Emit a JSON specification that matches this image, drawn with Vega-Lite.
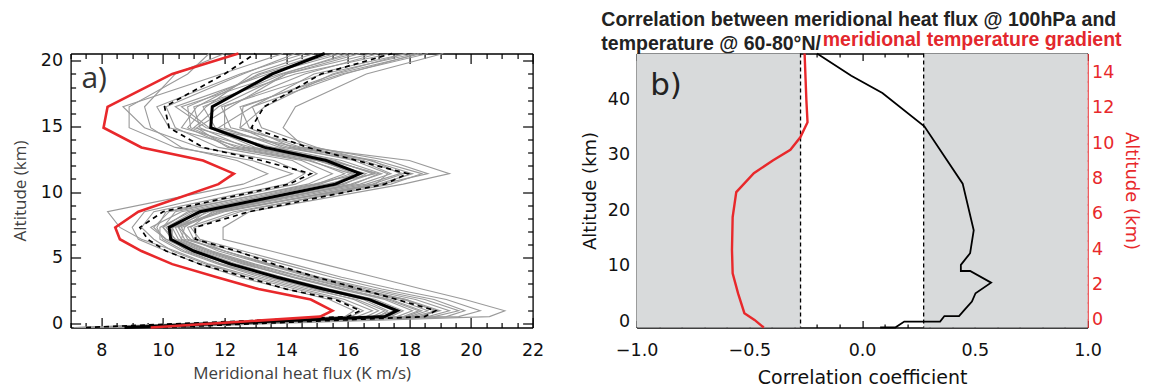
{
  "$schema": "https://vega.github.io/schema/vega-lite/v6.json",
  "background": "white",
  "padding": {"left": 10.6, "top": 9.5, "right": 5, "bottom": 5},
  "spacing": 36,
  "title": {
    "text": ["Correlation between meridional heat flux @ 100hPa and", "temperature @ 60-80°N/"],
    "anchor": "start", "frame": "bounds", "align": "left", "dx": 590, "offset": -24,
    "lineHeight": 24, "font": "Liberation Sans", "fontSize": 19.5, "fontWeight": "bold", "color": "#222222"
  },
  "datasets": {
    "a": [
      {"z": -0.33, "R": 9.6, "M": 8.75, "L": 7.5, "U": 10.0, "g1": 9.8, "g2": 8.2, "g3": 7.2, "g4": 9.0, "g5": 7.6, "g6": 8.0, "g7": 9.4, "g8": 7.4, "g9": 8.6, "g10": 7.1, "g11": 8.4, "g12": 7.8, "g13": 10.0, "g14": 8.9, "g15": 7.9, "g16": 9.2, "g17": 8.1, "g18": 9.6, "g19": 7.3, "g20": 8.5, "g21": 7.7, "g22": 9.1},
      {"z": 0.5, "R": 15.1, "M": 17.2, "L": 16.0, "U": 18.5, "g1": 20.6, "g2": 19.6, "g3": 18.8, "g4": 18.0, "g5": 17.6, "g6": 16.3, "g7": 16.6, "g8": 17.9, "g9": 18.3, "g10": 17.0, "g11": 16.1, "g12": 15.9, "g13": 18.6, "g14": 17.4, "g15": 16.9, "g16": 18.1, "g17": 17.3, "g18": 16.8, "g19": 19.2, "g20": 17.8, "g21": 17.1, "g22": 18.4},
      {"z": 0.95, "R": 15.5, "M": 17.6, "L": 16.4, "U": 18.85, "g1": 21.1, "g2": 20.3, "g3": 19.6, "g4": 18.6, "g5": 18.1, "g6": 16.8, "g7": 17.0, "g8": 18.4, "g9": 19.0, "g10": 17.3, "g11": 16.5, "g12": 16.2, "g13": 19.3, "g14": 17.8, "g15": 17.5, "g16": 18.9, "g17": 17.7, "g18": 17.2, "g19": 19.8, "g20": 18.3, "g21": 17.6, "g22": 18.8},
      {"z": 1.8, "R": 14.8, "M": 16.7, "L": 15.6, "U": 17.6, "g1": 19.8, "g2": 19.2, "g3": 18.5, "g4": 17.6, "g5": 17.2, "g6": 15.9, "g7": 16.2, "g8": 17.4, "g9": 17.9, "g10": 16.5, "g11": 15.7, "g12": 15.4, "g13": 18.2, "g14": 16.9, "g15": 16.6, "g16": 17.8, "g17": 16.8, "g18": 16.3, "g19": 18.8, "g20": 17.3, "g21": 16.7, "g22": 17.9},
      {"z": 2.6, "R": 13.1, "M": 15.2, "L": 14.0, "U": 16.4, "g1": 18.4, "g2": 17.5, "g3": 16.8, "g4": 16.2, "g5": 15.7, "g6": 14.5, "g7": 14.9, "g8": 15.9, "g9": 16.3, "g10": 15.1, "g11": 14.3, "g12": 14.0, "g13": 16.6, "g14": 15.4, "g15": 15.0, "g16": 16.1, "g17": 15.3, "g18": 14.7, "g19": 17.1, "g20": 15.8, "g21": 15.2, "g22": 16.4},
      {"z": 3.5, "R": 11.75, "M": 13.7, "L": 12.7, "U": 15.0, "g1": 16.9, "g2": 15.8, "g3": 15.1, "g4": 14.6, "g5": 14.2, "g6": 13.0, "g7": 13.4, "g8": 14.3, "g9": 14.8, "g10": 13.6, "g11": 12.8, "g12": 12.5, "g13": 15.0, "g14": 13.9, "g15": 13.4, "g16": 14.5, "g17": 13.8, "g18": 13.2, "g19": 15.5, "g20": 14.2, "g21": 13.7, "g22": 14.9},
      {"z": 4.5, "R": 10.3, "M": 12.2, "L": 11.2, "U": 13.6, "g1": 15.2, "g2": 14.2, "g3": 13.5, "g4": 13.0, "g5": 12.6, "g6": 11.5, "g7": 11.9, "g8": 12.8, "g9": 13.3, "g10": 12.1, "g11": 11.4, "g12": 11.2, "g13": 13.4, "g14": 12.4, "g15": 11.9, "g16": 12.9, "g17": 12.3, "g18": 11.8, "g19": 13.9, "g20": 12.7, "g21": 12.2, "g22": 13.4},
      {"z": 5.5, "R": 9.3, "M": 11.0, "L": 10.1, "U": 12.4, "g1": 13.5, "g2": 12.6, "g3": 12.0, "g4": 11.6, "g5": 11.3, "g6": 10.4, "g7": 10.7, "g8": 11.5, "g9": 11.8, "g10": 10.9, "g11": 10.3, "g12": 10.1, "g13": 12.0, "g14": 11.2, "g15": 10.8, "g16": 11.5, "g17": 11.1, "g18": 10.6, "g19": 12.3, "g20": 11.4, "g21": 11.0, "g22": 12.0},
      {"z": 6.4, "R": 8.6, "M": 10.25, "L": 9.5, "U": 11.05, "g1": 11.95, "g2": 11.2, "g3": 10.8, "g4": 10.6, "g5": 10.3, "g6": 9.3, "g7": 10.0, "g8": 10.6, "g9": 10.9, "g10": 10.1, "g11": 9.7, "g12": 9.2, "g13": 10.7, "g14": 10.4, "g15": 10.2, "g16": 10.5, "g17": 10.3, "g18": 9.9, "g19": 11.0, "g20": 10.4, "g21": 10.1, "g22": 11.1},
      {"z": 7.3, "R": 8.45, "M": 10.2, "L": 9.25, "U": 11.05, "g1": 11.95, "g2": 10.9, "g3": 10.6, "g4": 10.4, "g5": 10.0, "g6": 8.6, "g7": 9.8, "g8": 10.7, "g9": 10.5, "g10": 9.6, "g11": 9.3, "g12": 9.0, "g13": 10.5, "g14": 10.1, "g15": 10.3, "g16": 10.3, "g17": 10.3, "g18": 9.9, "g19": 10.8, "g20": 10.0, "g21": 9.7, "g22": 11.0},
      {"z": 8.5, "R": 9.2, "M": 11.2, "L": 10.0, "U": 12.8, "g1": 12.8, "g2": 11.6, "g3": 11.8, "g4": 12.0, "g5": 10.8, "g6": 8.2, "g7": 10.1, "g8": 11.4, "g9": 11.7, "g10": 10.6, "g11": 9.7, "g12": 9.4, "g13": 11.3, "g14": 11.0, "g15": 11.5, "g16": 11.1, "g17": 11.9, "g18": 10.9, "g19": 12.3, "g20": 10.4, "g21": 10.2, "g22": 12.5},
      {"z": 10.6, "R": 11.8, "M": 15.6, "L": 14.1, "U": 17.2, "g1": 17.8, "g2": 16.6, "g3": 17.1, "g4": 16.9, "g5": 15.3, "g6": 12.6, "g7": 14.3, "g8": 15.9, "g9": 16.1, "g10": 15.0, "g11": 14.0, "g12": 13.2, "g13": 16.4, "g14": 15.8, "g15": 16.2, "g16": 15.5, "g17": 16.8, "g18": 15.1, "g19": 17.4, "g20": 14.7, "g21": 14.9, "g22": 17.0},
      {"z": 11.4, "R": 12.3, "M": 16.4, "L": 14.8, "U": 17.95, "g1": 19.3, "g2": 17.7, "g3": 18.6, "g4": 17.3, "g5": 16.9, "g6": 13.4, "g7": 15.0, "g8": 16.6, "g9": 17.1, "g10": 15.9, "g11": 14.6, "g12": 14.2, "g13": 17.4, "g14": 16.8, "g15": 17.0, "g16": 16.2, "g17": 17.8, "g18": 16.1, "g19": 18.4, "g20": 15.5, "g21": 16.4, "g22": 18.1},
      {"z": 12.4, "R": 11.3, "M": 15.3, "L": 13.2, "U": 16.3, "g1": 18.0, "g2": 16.8, "g3": 17.3, "g4": 16.2, "g5": 15.5, "g6": 12.4, "g7": 14.2, "g8": 15.0, "g9": 15.8, "g10": 14.8, "g11": 13.6, "g12": 12.9, "g13": 16.4, "g14": 15.6, "g15": 15.4, "g16": 15.1, "g17": 16.5, "g18": 14.7, "g19": 16.9, "g20": 14.5, "g21": 15.0, "g22": 16.7},
      {"z": 13.4, "R": 9.3, "M": 13.3, "L": 11.3, "U": 14.7, "g1": 14.6, "g2": 14.2, "g3": 14.9, "g4": 14.1, "g5": 12.7, "g6": 10.6, "g7": 11.8, "g8": 13.0, "g9": 13.6, "g10": 12.4, "g11": 11.2, "g12": 10.4, "g13": 13.9, "g14": 13.4, "g15": 12.9, "g16": 13.8, "g17": 14.4, "g18": 12.2, "g19": 14.5, "g20": 12.1, "g21": 12.6, "g22": 15.0},
      {"z": 14.9, "R": 8.07, "M": 11.55, "L": 10.2, "U": 12.87, "g1": 13.9, "g2": 12.8, "g3": 12.2, "g4": 11.8, "g5": 11.2, "g6": 9.6, "g7": 10.4, "g8": 11.5, "g9": 11.0, "g10": 10.9, "g11": 9.4, "g12": 8.9, "g13": 12.5, "g14": 11.7, "g15": 10.6, "g16": 12.0, "g17": 11.4, "g18": 10.8, "g19": 12.5, "g20": 11.1, "g21": 10.2, "g22": 13.2},
      {"z": 16.5, "R": 8.2, "M": 11.6, "L": 10.05, "U": 13.28, "g1": 14.3, "g2": 12.5, "g3": 11.9, "g4": 12.9, "g5": 11.0, "g6": 9.4, "g7": 10.1, "g8": 10.6, "g9": 11.8, "g10": 10.8, "g11": 8.7, "g12": 8.9, "g13": 13.3, "g14": 11.3, "g15": 11.1, "g16": 12.0, "g17": 10.4, "g18": 11.4, "g19": 12.6, "g20": 12.2, "g21": 9.8, "g22": 12.9},
      {"z": 19.0, "R": 10.3, "M": 13.55, "L": 12.0, "U": 15.13, "g1": 16.6, "g2": 15.8, "g3": 15.2, "g4": 14.9, "g5": 14.3, "g6": 10.4, "g7": 12.6, "g8": 13.8, "g9": 14.0, "g10": 13.2, "g11": 11.9, "g12": 10.8, "g13": 15.5, "g14": 13.9, "g15": 13.1, "g16": 14.6, "g17": 13.4, "g18": 12.9, "g19": 15.6, "g20": 14.0, "g21": 12.5, "g22": 15.9},
      {"z": 20.56, "R": 12.45, "M": 15.25, "L": 13.0, "U": 17.44, "g1": 19.1, "g2": 18.6, "g3": 18.2, "g4": 17.9, "g5": 17.4, "g6": 12.0, "g7": 14.3, "g8": 16.2, "g9": 16.8, "g10": 15.6, "g11": 13.9, "g12": 11.5, "g13": 17.9, "g14": 16.0, "g15": 15.2, "g16": 17.0, "g17": 15.8, "g18": 14.9, "g19": 18.4, "g20": 16.4, "g21": 14.6, "g22": 18.3}
    ],
    "bk": [
      {"k": 0, "r": -0.2, "z": 48.2}, {"k": 1, "r": -0.048, "z": 44.2}, {"k": 2, "r": 0.09, "z": 41.1},
      {"k": 3, "r": 0.276, "z": 35.1}, {"k": 4, "r": 0.446, "z": 24.8}, {"k": 5, "r": 0.495, "z": 16.4},
      {"k": 6, "r": 0.479, "z": 12.3}, {"k": 7, "r": 0.438, "z": 10.2}, {"k": 8, "r": 0.438, "z": 9.1},
      {"k": 9, "r": 0.479, "z": 9.1}, {"k": 10, "r": 0.572, "z": 7.0}, {"k": 11, "r": 0.503, "z": 5.1},
      {"k": 12, "r": 0.487, "z": 3.6}, {"k": 13, "r": 0.454, "z": 2.1}, {"k": 14, "r": 0.43, "z": 1.0},
      {"k": 15, "r": 0.365, "z": 1.0}, {"k": 16, "r": 0.346, "z": 0.0}, {"k": 17, "r": 0.187, "z": 0.0},
      {"k": 18, "r": 0.147, "z": -1.06}, {"k": 19, "r": 0.08, "z": -1.06}
    ],
    "rd": [
      {"k": 0, "r": -0.255, "z": 15.07}, {"k": 1, "r": -0.247, "z": 12.4}, {"k": 2, "r": -0.242, "z": 11.18},
      {"k": 3, "r": -0.274, "z": 10.33}, {"k": 4, "r": -0.318, "z": 9.62}, {"k": 5, "r": -0.396, "z": 9.02},
      {"k": 6, "r": -0.48, "z": 8.3}, {"k": 7, "r": -0.558, "z": 7.23}, {"k": 8, "r": -0.574, "z": 5.82},
      {"k": 9, "r": -0.577, "z": 3.95}, {"k": 10, "r": -0.574, "z": 2.63}, {"k": 11, "r": -0.55, "z": 1.5},
      {"k": 12, "r": -0.522, "z": 0.38}, {"k": 13, "r": -0.477, "z": 0.0}, {"k": 14, "r": -0.436, "z": -0.43}
    ],
    "sh": [{"x1": -1, "x2": -0.273}, {"x1": 0.273, "x2": 1}],
    "dl": [{"x": -0.273}, {"x": 0.273}]
  },
  "hconcat": [
    {
      "width": 462, "height": 274,
      "data": {"name": "a"},
      "layer": [
        {
          "transform": [{"fold": ["g1","g2","g3","g4","g5","g6","g7","g8","g9","g10","g11","g12","g13","g14","g15","g16","g17","g18","g19","g20","g21","g22"], "as": ["s", "v"]}],
          "mark": {"type": "line", "color": "#9a9a9a", "strokeWidth": 1.1},
          "encoding": {
            "x": {"field": "v", "type": "quantitative", "scale": {"domain": [7, 22], "nice": false, "zero": false},
              "axis": {"orient": "bottom", "values": [7,7.5,8,8.5,9,9.5,10,10.5,11,11.5,12,12.5,13,13.5,14,14.5,15,15.5,16,16.5,17,17.5,18,18.5,19,19.5,20,20.5,21,21.5,22],
                "format": ".0f", "labelExpr": "datum.value % 2 == 0 ? datum.label : ''", "labelOverlap": false, "labelFlush": false,
                "tickSize": {"condition": {"test": "datum.value % 2 == 0", "value": -10}, "value": -5},
                "labelPadding": 24, "title": "Meridional heat flux (K m/s)", "titleFont": "Open Sans", "titleFontSize": 17, "titleColor": "#404040", "titlePadding": 1.5}},
            "y": {"field": "z", "type": "quantitative", "scale": {"domain": [-0.33, 20.56], "nice": false, "zero": false},
              "axis": {"orient": "left", "values": [0,1,2,3,4,5,6,7,8,9,10,11,12,13,14,15,16,17,18,19,20],
                "format": "d", "labelExpr": "datum.value % 5 == 0 ? datum.label : ''", "labelOverlap": false, "labelFlush": false,
                "tickSize": {"condition": {"test": "datum.value % 5 == 0", "value": -10}, "value": -5},
                "labelPadding": 18, "title": "Altitude (km)", "titleFont": "Open Sans", "titleFontSize": 17, "titleColor": "#404040", "titlePadding": 11}},
            "detail": {"field": "s"},
            "order": {"field": "z", "type": "quantitative"}
          }
        },
        {
          "transform": [{"fold": ["L", "U"], "as": ["s", "v"]}],
          "mark": {"type": "line", "color": "#000000", "strokeWidth": 1.7, "strokeDash": [5, 4]},
          "encoding": {
            "x": {"field": "v", "type": "quantitative",
              "axis": {"orient": "top", "values": [7,7.5,8,8.5,9,9.5,10,10.5,11,11.5,12,12.5,13,13.5,14,14.5,15,15.5,16,16.5,17,17.5,18,18.5,19,19.5,20,20.5,21,21.5,22],
                "labels": false, "title": null, "tickSize": {"condition": {"test": "datum.value % 2 == 0", "value": -10}, "value": -5}}},
            "y": {"field": "z", "type": "quantitative",
              "axis": {"orient": "right", "values": [0,1,2,3,4,5,6,7,8,9,10,11,12,13,14,15,16,17,18,19,20],
                "labels": false, "title": null, "tickSize": {"condition": {"test": "datum.value % 5 == 0", "value": -10}, "value": -5}}},
            "detail": {"field": "s"},
            "order": {"field": "z", "type": "quantitative"}
          }
        },
        {
          "mark": {"type": "line", "color": "#000000", "strokeWidth": 3},
          "encoding": {
            "x": {"field": "M", "type": "quantitative", "axis": null},
            "y": {"field": "z", "type": "quantitative", "axis": null},
            "order": {"field": "z", "type": "quantitative"}
          }
        },
        {
          "mark": {"type": "line", "color": "#e8282b", "strokeWidth": 2.6},
          "encoding": {
            "x": {"field": "R", "type": "quantitative", "axis": null},
            "y": {"field": "z", "type": "quantitative", "axis": null},
            "order": {"field": "z", "type": "quantitative"}
          }
        },
        {
          "data": {"values": [{"t": "a)"}]},
          "mark": {"type": "text", "font": "Open Sans", "fontSize": 30, "align": "left", "baseline": "middle", "color": "#333333"},
          "encoding": {
            "x": {"datum": 7.35, "type": "quantitative", "axis": null},
            "y": {"datum": 18.6, "type": "quantitative", "axis": null},
            "text": {"field": "t"}
          }
        }
      ],
      "resolve": {"axis": {"x": "independent", "y": "independent"}}
    },
    {
      "width": 451, "height": 274,
      "title": {"text": "meridional temperature gradient", "anchor": "end", "frame": "group", "dx": 34, "offset": -20, "baseline": "alphabetic",
        "color": "#e3272d", "font": "Liberation Sans", "fontSize": 19.5, "fontWeight": "bold"},
      "layer": [
        {
          "data": {"name": "sh"},
          "mark": {"type": "rect", "color": "#d8dadb"},
          "encoding": {
            "x": {"field": "x1", "type": "quantitative", "scale": {"domain": [-1, 1], "nice": false, "zero": false},
              "axis": {"orient": "bottom", "values": [-1,-0.9,-0.8,-0.7,-0.6,-0.5,-0.4,-0.3,-0.2,-0.1,0,0.1,0.2,0.3,0.4,0.5,0.6,0.7,0.8,0.9,1],
                "format": ".1f", "labelExpr": "abs(datum.value*2 - round(datum.value*2)) < 0.01 ? datum.label : ''", "labelOverlap": false, "labelFlush": false,
                "tickSize": {"condition": {"test": "abs(datum.value*2 - round(datum.value*2)) < 0.01", "value": -7}, "value": -3.5},
                "labelPadding": 21, "title": "Correlation coefficient", "titleFontSize": 19, "titlePadding": 6}},
            "x2": {"field": "x2"}
          }
        },
        {
          "data": {"name": "dl"},
          "mark": {"type": "rule", "color": "#000000", "strokeWidth": 1.3, "strokeDash": [4, 3]},
          "encoding": {
            "x": {"field": "x", "type": "quantitative",
              "axis": {"orient": "top", "values": [-1,-0.9,-0.8,-0.7,-0.6,-0.5,-0.4,-0.3,-0.2,-0.1,0,0.1,0.2,0.3,0.4,0.5,0.6,0.7,0.8,0.9,1],
                "labels": false, "title": null,
                "tickSize": {"condition": {"test": "abs(datum.value*2 - round(datum.value*2)) < 0.01", "value": -7}, "value": -3.5}}}
          }
        },
        {
          "data": {"name": "bk"},
          "mark": {"type": "line", "color": "#000000", "strokeWidth": 1.8},
          "encoding": {
            "x": {"field": "r", "type": "quantitative", "axis": null},
            "y": {"field": "z", "type": "quantitative", "scale": {"domain": [-1.06, 48.2], "nice": false, "zero": false},
              "axis": {"orient": "left", "values": [0,1,2,3,4,5,6,7,8,9,10,11,12,13,14,15,16,17,18,19,20,21,22,23,24,25,26,27,28,29,30,31,32,33,34,35,36,37,38,39,40,41,42,43,44,45,46,47,48],
                "format": "d", "labelExpr": "datum.value % 10 == 0 ? datum.label : ''", "labelOverlap": false, "labelFlush": false,
                "tickSize": {"condition": {"test": "datum.value % 10 == 0", "value": -8}, "value": -4},
                "labelPadding": 15, "title": "Altitude (km)", "titleFontSize": 18, "titlePadding": 8}},
            "order": {"field": "k", "type": "quantitative"}
          }
        },
        {
          "data": {"name": "rd"},
          "mark": {"type": "line", "color": "#e8282b", "strokeWidth": 2.4},
          "encoding": {
            "x": {"field": "r", "type": "quantitative", "axis": null},
            "y": {"field": "z", "type": "quantitative", "scale": {"domain": [-0.43, 15.07], "nice": false, "zero": false},
              "axis": {"orient": "right", "values": [0,0.5,1,1.5,2,2.5,3,3.5,4,4.5,5,5.5,6,6.5,7,7.5,8,8.5,9,9.5,10,10.5,11,11.5,12,12.5,13,13.5,14,14.5,15],
                "format": ".0f", "labelExpr": "datum.value % 2 == 0 ? datum.label : ''", "labelOverlap": false, "labelFlush": false,
                "tickSize": {"condition": {"test": "datum.value % 2 == 0", "value": -8}, "value": -4.5},
                "labelPadding": 12, "labelColor": "#e8282b", "tickColor": "#e8282b", "domainColor": "#e8282b",
                "title": "Altitude (km)", "titleColor": "#e8282b", "titleFontSize": 18, "titlePadding": 8}},
            "order": {"field": "k", "type": "quantitative"}
          }
        },
        {
          "data": {"values": [{"t": "b)"}]},
          "mark": {"type": "text", "font": "DejaVu Sans", "fontSize": 31, "align": "left", "baseline": "middle", "color": "#222222"},
          "encoding": {
            "x": {"datum": -0.94, "type": "quantitative", "axis": null},
            "y": {"datum": 42.4, "type": "quantitative", "scale": {"domain": [-1.06, 48.2], "nice": false, "zero": false}, "axis": null},
            "text": {"field": "t"}
          }
        }
      ],
      "resolve": {"scale": {"y": "independent"}, "axis": {"x": "independent", "y": "independent"}}
    }
  ],
  "config": {
    "view": {"stroke": null},
    "axis": {"domainColor": "#000000", "domainWidth": 1.3, "tickColor": "#000000", "tickWidth": 1.2, "grid": false,
      "labelColor": "#111111", "labelFont": "DejaVu Sans", "labelFontSize": 17.5,
      "titleFont": "DejaVu Sans", "titleFontSize": 18, "titleFontWeight": "normal", "titleColor": "#111111", "zindex": 1}
  }
}
